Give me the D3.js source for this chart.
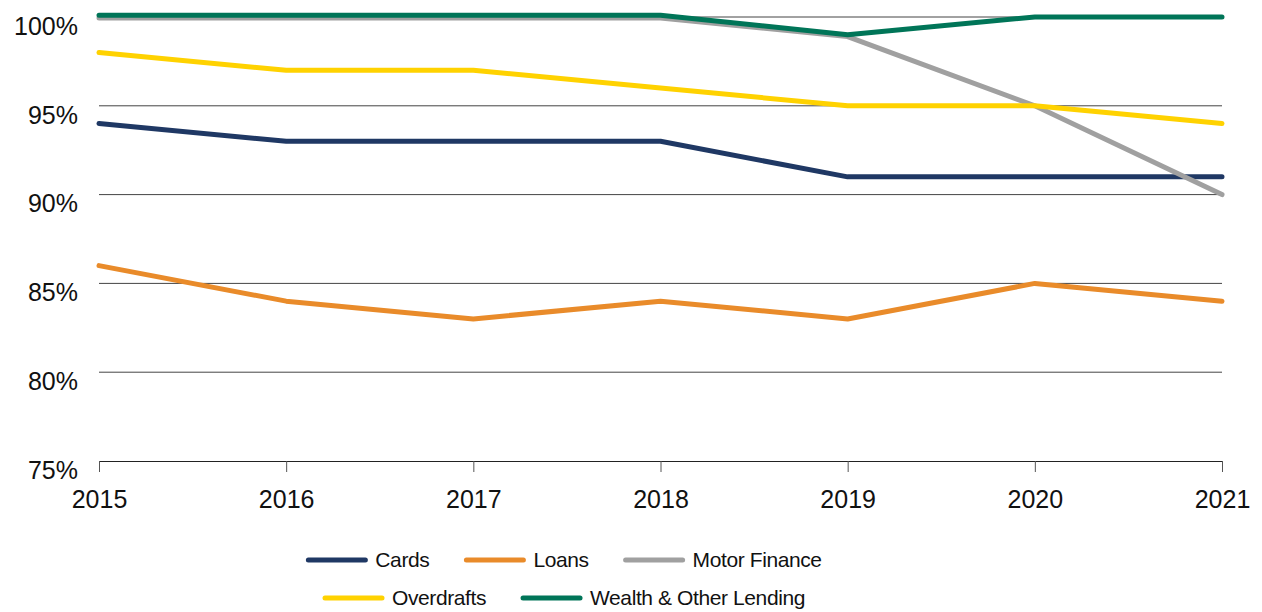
<!DOCTYPE html>
<html>
<head>
<meta charset="utf-8">
<script src="https://cdn.jsdelivr.net/npm/d3@7"></script>
<style>
    body { margin: 0; background: #fff; }
    svg { font-family: "Liberation Sans", Arial, Helvetica, sans-serif; }
</style>
</head>
<body>
<svg id="drawing_region"></svg>
<script>
const years = [2015, 2016, 2017, 2018, 2019, 2020, 2021];
const cards = [94, 93, 93, 93, 91, 91, 91];
const loans = [86, 84, 83, 84, 83, 85, 84];
const motorFinance = [99.95, 99.95, 99.95, 99.95, 98.9, 95, 90];
const overdrafts = [98, 97, 97, 96, 95, 95, 94];
const wealth = [100.1, 100.1, 100.1, 100.1, 99, 100, 100];
const yTicks = [75, 80, 85, 90, 95, 100];

const seriesNames = ['Cards', 'Loans', 'Motor Finance', 'Overdrafts', 'Wealth & Other Lending'];
const seriesValues = [cards, loans, motorFinance, overdrafts, wealth];
const seriesColors = ['#1f3864', '#e98b2a', '#a0a0a0', '#ffd200', '#007558'];

var config = {
    parent: '#drawing_region',
    width: 1262,
    height: 612,
    margin: {top: 17, right: 40, bottom: 151, left: 99}
};

class Linechart {

    constructor( config, data ) {
        this.config = config;
        this.data = data;
        this.init();
    }

    init() {
        let self = this;
        let m = self.config.margin;

        self.svg = d3.select( self.config.parent )
            .attr('width', self.config.width)
            .attr('height', self.config.height);

        self.inner_width = self.config.width - m.left - m.right;
        self.inner_height = self.config.height - m.top - m.bottom;

        self.chart = self.svg.append('g')
            .attr('transform', `translate(${m.left}, ${m.top})`);

        self.xscale = d3.scalePoint()
            .domain( years )
            .range( [0, self.inner_width] );

        self.yscale = d3.scaleLinear()
            .domain( [75, 100] )
            .range( [self.inner_height, 0] );

        self.line = d3.line()
            .x( (d, i) => self.xscale( years[i] ) )
            .y( d => self.yscale( d ) );
    }

    update() {
        let self = this;
        self.render();
    }

    render() {
        let self = this;

        // grid lines
        self.chart.selectAll('.grid')
            .data( yTicks.filter( t => t > 75 ) )
            .enter()
            .append('line')
            .attr('x1', 0)
            .attr('x2', self.inner_width)
            .attr('y1', d => self.yscale(d))
            .attr('y2', d => self.yscale(d))
            .attr('stroke', '#444')
            .attr('stroke-width', 1);

        // x axis
        const xaxis = self.chart.append('g')
            .attr('transform', `translate(0, ${self.inner_height})`)
            .call( d3.axisBottom( self.xscale ).tickSize(11).tickSizeOuter(0).tickPadding(18) );
        xaxis.select('.domain').attr('stroke', '#222');
        xaxis.selectAll('.tick line').attr('stroke', '#555');
        xaxis.selectAll('text')
            .attr('font-size', '25px')
            .attr('fill', '#111')
            .style('font-family', 'inherit');

        // y labels
        self.chart.selectAll('.ylabel')
            .data( yTicks )
            .enter()
            .append('text')
            .attr('x', -21)
            .attr('y', d => self.yscale(d) + 9)
            .attr('dy', '0.35em')
            .attr('text-anchor', 'end')
            .attr('font-size', '25px')
            .attr('fill', '#111')
            .text( d => d + '%' );

        // lines
        self.chart.selectAll('.series')
            .data( self.data )
            .enter()
            .append('path')
            .attr('d', d => self.line( d.values ))
            .attr('fill', 'none')
            .attr('stroke', d => d.color)
            .attr('stroke-width', 5)
            .attr('stroke-linecap', 'round')
            .attr('stroke-linejoin', 'round');

        // legend
        const rows = [self.data.slice(0, 3), self.data.slice(3)];
        const rowY = [560, 598];
        const lineLen = 57, gapText = 10, gapItem = 37;
        const center = 565;
        rows.forEach( (row, r) => {
            const g = self.svg.append('g');
            let x = 0;
            row.forEach( d => {
                g.append('line')
                    .attr('x1', x).attr('x2', x + lineLen)
                    .attr('y1', rowY[r]).attr('y2', rowY[r])
                    .attr('stroke', d.color)
                    .attr('stroke-width', 5)
                    .attr('stroke-linecap', 'round');
                const t = g.append('text')
                    .attr('x', x + lineLen + gapText)
                    .attr('y', rowY[r])
                    .attr('dy', '0.35em')
                    .attr('font-size', '21px')
                    .attr('letter-spacing', '-0.4px')
                    .attr('fill', '#111')
                    .text( d.name );
                x += lineLen + gapText + t.node().getComputedTextLength() + gapItem;
            });
            const w = x - gapItem;
            g.attr('transform', `translate(${center - w/2}, 0)`);
        });
    }
}

const data = seriesNames.map( (n, i) => ({name: n, values: seriesValues[i], color: seriesColors[i]}) );
const linechart = new Linechart( config, data );
linechart.update();
</script>
</body>
</html>
